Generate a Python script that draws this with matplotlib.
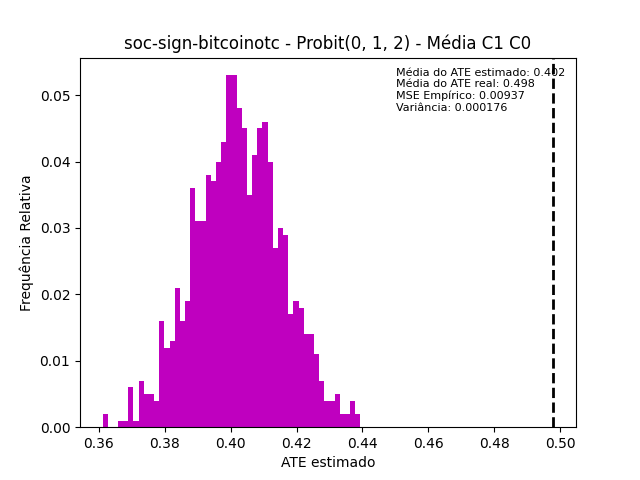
import numpy as np
import matplotlib
matplotlib.use("Agg")
import matplotlib.pyplot as plt

## dados

bin_lo = 0.3611
bin_hi = 0.4394
freq = [0.002, 0.0, 0.0, 0.001, 0.001, 0.006, 0.001, 0.007, 0.005, 0.005,
        0.004, 0.016, 0.012, 0.013, 0.021, 0.016, 0.019, 0.036, 0.031, 0.031,
        0.038, 0.037, 0.040, 0.043, 0.053, 0.053, 0.048, 0.045, 0.035, 0.041,
        0.045, 0.046, 0.040, 0.027, 0.030, 0.029, 0.017, 0.019, 0.018, 0.014,
        0.014, 0.011, 0.007, 0.004, 0.004, 0.005, 0.002, 0.002, 0.004, 0.002]
ate_real = 0.498
info = ["Média do ATE estimado: 0.402",
        "Média do ATE real: 0.498",
        "MSE Empírico: 0.00937",
        "Variância: 0.000176"]

## histograma

edges = np.linspace(bin_lo, bin_hi, len(freq) + 1)
centers = (edges[:-1] + edges[1:]) / 2

fig, ax = plt.subplots(figsize=(6.4, 4.8), dpi=100)
ax.hist(centers, bins=edges, weights=freq, color='m')
ax.axvline(ate_real, color='k', linestyle='--', linewidth=2)

ax.text(0.637, 0.973, "\n".join(info), transform=ax.transAxes,
        ha='left', va='top', fontsize=8)

ax.set_title('soc-sign-bitcoinotc - Probit(0, 1, 2) - Média C1 C0')
ax.set_xlabel('ATE estimado')
ax.set_ylabel('Frequência Relativa')

plt.savefig('out.png')
